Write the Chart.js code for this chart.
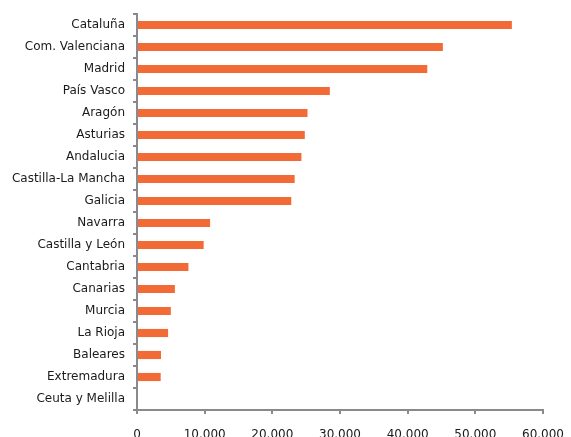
<!DOCTYPE html>
<html>
<head>
<meta charset="utf-8">
<script src="https://cdn.jsdelivr.net/npm/chart.js@4/dist/chart.umd.min.js"></script>
<style>
html,body{margin:0;padding:0;background:#fff;}
canvas{display:block;}
</style>
</head>
<body>
<canvas id="c" width="571" height="437"></canvas>
<script>
const categories = ["Cataluña","Com. Valenciana","Madrid","País Vasco","Aragón","Asturias","Andalucia","Castilla-La Mancha","Galicia","Navarra","Castilla y León","Cantabria","Canarias","Murcia","La Rioja","Baleares","Extremadura","Ceuta y Melilla"];
const values = [55400,45200,42900,28500,25200,24800,24300,23300,22800,10800,9850,7600,5600,5000,4600,3550,3500,0];
const xTicks = [0,10000,20000,30000,40000,50000,60000];

const fmt = v => String(v).replace(/\B(?=(\d{3})+(?!\d))/g, '.');
const axisColor = '#8a8a8e';
const font = {family:'"DejaVu Sans", Verdana, sans-serif', size:12};

new Chart(document.getElementById('c'), {
  type:'bar',
  data:{labels:categories, datasets:[{data:values, backgroundColor:'#F26A35', borderWidth:0, barPercentage:0.37, categoryPercentage:1}]},
  options:{
    indexAxis:'y',
    responsive:false,
    animation:false,
    events:[],
    layout:{padding:{top:14,right:28,left:0,bottom:0}},
    plugins:{legend:{display:false},tooltip:{enabled:false}},
    scales:{
      x:{
        min:0,max:60000,
        afterBuildTicks: s => { s.ticks = xTicks.map(v=>({value:v})); },
        afterFit: s => { s.height = 27; s.paddingLeft = 0; s.paddingRight = 0; },
        grid:{drawOnChartArea:false, drawTicks:true, tickLength:4, color:axisColor, lineWidth:2},
        border:{color:axisColor, width:2},
        ticks:{font:font, color:'#1a1a1a', padding:14, maxRotation:0, callback:v=>fmt(v)}
      },
      y:{
        afterFit: s => { s.width = 137; s.paddingTop = 0; s.paddingBottom = 0; },
        grid:{drawOnChartArea:false, drawTicks:true, tickLength:4, color:axisColor, lineWidth:2, offset:true},
        border:{color:axisColor, width:2},
        ticks:{font:font, color:'#1a1a1a', padding:8, autoSkip:false}
      }
    }
  }
});
</script>
</body>
</html>
